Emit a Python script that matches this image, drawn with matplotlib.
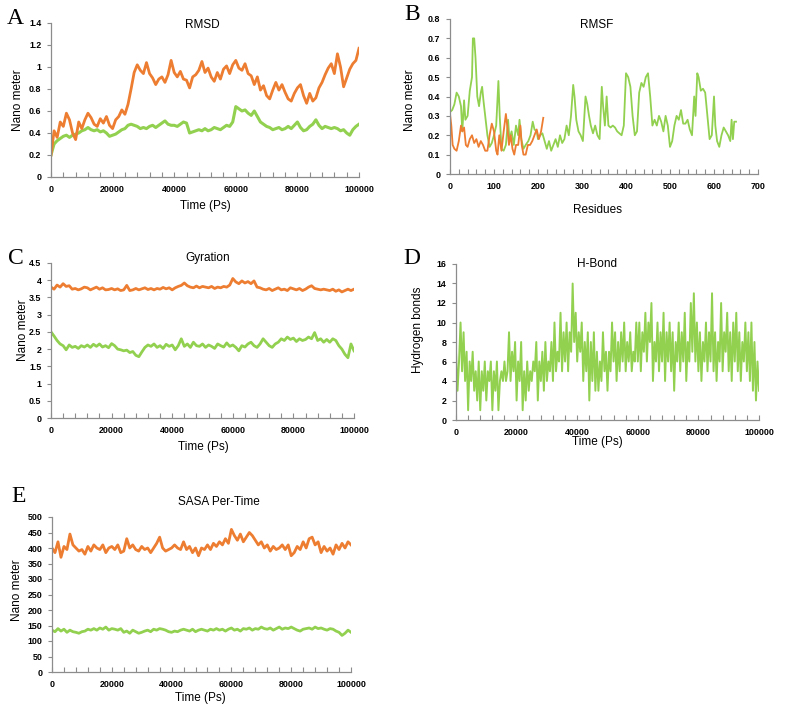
import numpy as np
import matplotlib
matplotlib.use("Agg")
import matplotlib.pyplot as plt
from matplotlib.ticker import MultipleLocator, FuncFormatter

ORANGE = "#ED7D31"
GREEN = "#92D050"
SPINE = "#8C8C8C"

# ---------------- data ----------------
time_1k = np.arange(0, 100001, 1000)
time_500 = np.arange(0, 100001, 500)

rmsd_orange = [0.20,0.42,0.36,0.50,0.46,0.58,0.52,0.40,0.34,0.50,0.44,
               0.52,0.58,0.54,0.48,0.46,0.53,0.49,0.55,0.47,0.44,
               0.52,0.55,0.61,0.57,0.66,0.80,0.95,1.02,0.97,0.94,
               1.04,0.94,0.90,0.84,0.89,0.91,0.86,0.93,1.06,0.95,
               0.91,0.96,0.89,0.88,0.81,0.91,0.93,0.97,1.05,0.95,
               0.99,0.91,0.87,0.95,0.89,0.98,1.01,0.94,1.02,1.06,
               0.99,0.97,1.03,0.94,0.92,0.84,0.91,0.79,0.83,0.74,
               0.71,0.79,0.86,0.79,0.84,0.77,0.71,0.69,0.76,0.81,
               0.84,0.74,0.67,0.76,0.69,0.72,0.81,0.86,0.93,0.99,
               1.03,0.94,1.12,1.00,0.82,0.90,0.98,1.03,1.06,1.17]
rmsd_green = [0.20,0.30,0.33,0.35,0.37,0.38,0.36,0.38,0.39,0.40,0.42,
              0.43,0.45,0.43,0.42,0.43,0.41,0.42,0.40,0.37,0.38,
              0.39,0.41,0.43,0.44,0.47,0.48,0.47,0.46,0.44,0.45,
              0.44,0.46,0.47,0.45,0.47,0.49,0.51,0.48,0.47,0.47,
              0.46,0.48,0.50,0.49,0.40,0.41,0.42,0.43,0.42,0.44,
              0.42,0.43,0.45,0.44,0.43,0.45,0.47,0.46,0.50,0.64,
              0.62,0.60,0.61,0.58,0.56,0.60,0.55,0.50,0.48,0.46,
              0.45,0.43,0.44,0.45,0.43,0.44,0.46,0.44,0.47,0.50,
              0.45,0.42,0.43,0.46,0.48,0.52,0.47,0.44,0.46,0.45,
              0.44,0.45,0.44,0.42,0.43,0.40,0.38,0.43,0.46,0.48]

rmsf_green_res = [0,5,10,15,20,25,28,32,35,40,45,50,52,55,58,62,66,70,73,76,80,85,90,95,100,
                  105,110,113,117,122,127,132,135,140,145,150,155,158,162,167,172,178,183,188,192,
                  197,200,205,210,215,220,225,230,235,240,245,250,255,260,265,270,275,280,283,287,
                  292,297,302,308,312,316,320,325,330,335,340,345,348,352,356,360,365,370,375,380,
                  385,390,395,400,405,410,415,420,425,430,435,440,445,450,455,460,465,470,475,480,
                  485,490,495,500,505,510,515,520,525,530,535,540,545,550,555,558,562,565,570,575,
                  580,585,590,595,600,603,607,612,617,622,627,632,637,640,643,646,650]
rmsf_green = [0.32,0.33,0.36,0.42,0.40,0.35,0.22,0.38,0.28,0.30,0.43,0.50,0.70,0.70,0.60,0.40,0.35,0.42,0.45,0.38,0.30,0.20,0.14,0.16,0.20,
              0.25,0.48,0.30,0.13,0.12,0.15,0.28,0.18,0.22,0.15,0.25,0.20,0.28,0.18,0.13,0.15,0.17,0.20,0.27,0.23,
              0.22,0.18,0.20,0.21,0.17,0.13,0.17,0.12,0.15,0.18,0.14,0.20,0.16,0.18,0.25,0.20,0.30,0.46,0.40,0.28,
              0.22,0.20,0.17,0.40,0.36,0.30,0.25,0.21,0.25,0.20,0.18,0.45,0.35,0.25,0.40,0.25,0.24,0.25,0.24,0.22,
              0.21,0.20,0.25,0.52,0.50,0.45,0.30,0.20,0.22,0.42,0.47,0.45,0.50,0.52,0.40,0.25,0.28,0.25,0.30,0.27,
              0.22,0.30,0.25,0.14,0.17,0.25,0.30,0.28,0.33,0.26,0.26,0.28,0.23,0.20,0.40,0.30,0.52,0.50,0.43,0.44,
              0.42,0.30,0.18,0.20,0.40,0.25,0.17,0.14,0.20,0.24,0.22,0.20,0.17,0.28,0.18,0.27,0.27]
rmsf_orange_res = [0,3,6,10,15,20,25,28,32,36,40,45,50,55,60,65,70,75,80,85,90,95,100,105,108,
                   112,117,122,127,130,134,138,142,146,150,155,160,163,167,172,177,182,187,192,197,
                   202,207,212]
rmsf_orange = [0.31,0.25,0.15,0.13,0.12,0.17,0.25,0.22,0.24,0.15,0.14,0.18,0.20,0.16,0.18,0.14,0.17,0.15,0.12,0.12,0.20,0.26,0.22,0.12,0.10,
               0.20,0.12,0.22,0.31,0.25,0.15,0.20,0.13,0.10,0.15,0.15,0.25,0.15,0.10,0.10,0.15,0.15,0.17,0.20,0.23,
               0.18,0.22,0.29]

gyr_orange = [3.80,3.74,3.86,3.80,3.90,3.82,3.84,3.74,3.76,3.72,3.75,
              3.80,3.78,3.72,3.76,3.80,3.74,3.78,3.72,3.73,3.76,
              3.72,3.75,3.70,3.72,3.85,3.70,3.72,3.76,3.72,3.75,
              3.78,3.73,3.76,3.72,3.76,3.74,3.79,3.75,3.78,3.72,
              3.78,3.82,3.85,3.92,3.84,3.80,3.78,3.83,3.78,3.82,
              3.80,3.78,3.82,3.76,3.80,3.78,3.82,3.80,3.86,4.05,
              3.95,3.90,3.98,3.92,3.96,3.90,3.98,3.80,3.78,3.74,
              3.72,3.76,3.70,3.74,3.78,3.72,3.74,3.70,3.78,3.75,
              3.72,3.76,3.70,3.74,3.80,3.84,3.76,3.74,3.72,3.74,
              3.72,3.70,3.74,3.68,3.72,3.66,3.70,3.74,3.70,3.74]
gyr_green = [2.50,2.38,2.25,2.15,2.10,1.98,2.12,2.05,2.08,2.02,2.10,
             2.06,2.12,2.05,2.14,2.08,2.15,2.06,2.10,2.04,2.16,
             2.10,2.00,1.98,1.95,1.97,1.90,1.93,1.82,1.78,1.92,
             2.05,2.12,2.08,2.15,2.05,2.10,2.02,2.14,2.08,2.12,
             1.98,2.10,2.30,2.08,2.15,2.05,2.20,2.10,2.08,2.15,
             2.05,2.12,2.08,2.02,2.15,2.10,2.06,2.18,2.08,2.12,
             2.05,1.95,2.10,2.06,2.15,2.20,2.10,2.05,2.15,2.30,
             2.20,2.10,2.05,2.15,2.20,2.30,2.25,2.35,2.28,2.32,
             2.22,2.30,2.25,2.28,2.35,2.30,2.48,2.25,2.30,2.20,
             2.28,2.20,2.30,2.25,2.10,2.00,1.85,1.75,2.15,1.95]

hbond = [7,3,6,10,5,9,4,7,1,6,4,7,3,5,2,6,1,5,3,6,
         2,5,4,6,1,5,3,6,1,4,5,4,6,4,5,9,4,7,5,8,
         2,6,4,8,1,5,2,6,3,5,4,6,5,8,2,6,4,7,3,8,
         4,6,5,8,4,10,5,7,6,11,5,9,6,10,5,9,7,14,8,11,
         6,9,7,10,4,8,5,9,2,8,4,9,3,7,3,6,4,9,5,7,
         3,7,5,10,6,9,4,8,5,9,6,10,5,8,6,9,5,7,6,10,
         6,10,5,9,7,11,6,10,8,12,4,8,6,10,5,9,6,11,4,9,
         6,10,5,9,3,8,6,10,5,9,6,11,4,8,6,12,7,13,6,10,
         5,9,4,8,6,10,5,9,6,13,5,9,4,8,6,12,5,9,7,11,
         5,9,4,10,6,11,5,9,4,8,6,10,5,9,4,10,3,8,2,6,3]

sasa_orange = [400,385,420,370,405,395,445,410,400,390,395,
               380,405,390,410,400,395,410,385,400,405,
               395,410,385,390,430,400,410,395,390,405,
               395,400,385,400,415,435,400,390,395,400,
               410,400,395,420,395,405,385,400,375,400,
               395,410,395,415,405,420,410,430,415,460,
               440,425,445,420,435,450,440,425,410,420,
               400,410,390,405,395,400,410,395,410,375,
               385,405,395,420,400,430,435,410,420,385,
               405,390,400,380,410,395,415,400,420,410]
sasa_green = [135,130,140,132,138,128,135,130,128,125,130,
              132,138,135,140,135,142,138,145,135,140,
              138,135,140,128,132,125,135,130,125,128,
              132,135,130,138,135,140,138,135,130,128,
              132,130,135,138,135,132,138,130,135,138,
              135,132,138,135,140,135,138,132,138,142,
              135,138,132,140,138,142,135,140,138,145,
              140,138,142,135,140,145,138,142,140,145,
              140,135,132,138,140,142,138,145,140,142,
              138,135,140,138,132,128,118,125,135,128]

# ---------------- layout ----------------
W, H = 786, 710
fig = plt.figure(figsize=(W / 100, H / 100), dpi=100)

def px_axes(l, r, t, b):
    return fig.add_axes([l / W, 1 - b / H, (r - l) / W, (b - t) / H])

def ftext(x, y, s, **kw):
    fig.text(x / W, 1 - y / H, s, **kw)

TICKFONT = dict(family="Liberation Sans", weight="bold", size=6.4)
LABFONT = dict(family="Liberation Sans", size=8.5)

def style(ax, xmax, xmajor, xminor, ymax, ymajor):
    for s in ["top", "right"]:
        ax.spines[s].set_visible(False)
    for s in ["left", "bottom"]:
        ax.spines[s].set_color(SPINE)
        ax.spines[s].set_linewidth(0.9)
    ax.set_xlim(0, xmax)
    ax.set_ylim(0, ymax)
    ax.xaxis.set_major_locator(MultipleLocator(xmajor))
    ax.xaxis.set_minor_locator(MultipleLocator(xminor))
    ax.yaxis.set_major_locator(MultipleLocator(ymajor))
    ax.yaxis.set_major_formatter(FuncFormatter(lambda v, p: "%g" % round(v, 3)))
    ax.xaxis.set_major_formatter(FuncFormatter(lambda v, p: "%d" % round(v)))
    ax.tick_params(axis="x", which="both", direction="in", length=3.5, color=SPINE, width=0.8, pad=6)
    ax.tick_params(axis="y", which="both", direction="out", length=3, color=SPINE, width=0.8, pad=4)
    for lab in ax.get_xticklabels() + ax.get_yticklabels():
        lab.set_fontproperties(matplotlib.font_manager.FontProperties(**TICKFONT))
    ax.set_facecolor("none")

# A: RMSD
axA = px_axes(51, 359, 23, 177)
axA.plot(time_1k, rmsd_green, color=GREEN, lw=2.2)
axA.plot(time_1k, rmsd_orange, color=ORANGE, lw=2.0)
style(axA, 100000, 20000, 4000, 1.4, 0.2)
ftext(202, 25, "RMSD", ha="center", va="center", **LABFONT)
ftext(18, 100, "Nano meter", ha="center", va="center", rotation=90, **LABFONT)
ftext(205, 206, "Time (Ps)", ha="center", va="center", **LABFONT)
ftext(15, 18, "A", ha="center", va="center", family="Liberation Serif", size=17)

# B: RMSF
axB = px_axes(450, 758, 19, 174)
axB.plot(rmsf_green_res, rmsf_green, color=GREEN, lw=1.3)
axB.plot(rmsf_orange_res, rmsf_orange, color=ORANGE, lw=1.3)
style(axB, 700, 100, 20, 0.8, 0.1)
ftext(597, 25, "RMSF", ha="center", va="center", **LABFONT)
ftext(410, 100, "Nano meter", ha="center", va="center", rotation=90, **LABFONT)
ftext(597, 210, "Residues", ha="center", va="center", **LABFONT)
ftext(412, 15, "B", ha="center", va="center", family="Liberation Serif", size=17)

# C: Gyration
axC = px_axes(51, 354, 263, 418)
axC.plot(time_1k, gyr_orange, color=ORANGE, lw=2.0)
axC.plot(time_1k, gyr_green, color=GREEN, lw=2.0)
style(axC, 100000, 20000, 4000, 4.5, 0.5)
ftext(208, 258, "Gyration", ha="center", va="center", **LABFONT)
ftext(23, 330, "Nano meter", ha="center", va="center", rotation=90, **LABFONT)
ftext(203, 447, "Time (Ps)", ha="center", va="center", **LABFONT)
ftext(16, 259, "C", ha="center", va="center", family="Liberation Serif", size=17)

# D: H-Bond
axD = px_axes(456, 759, 264, 420)
axD.plot(time_500, hbond, color=GREEN, lw=1.4)
style(axD, 100000, 20000, 4000, 16, 2)
ftext(597, 264, "H-Bond", ha="center", va="center", **LABFONT)
ftext(418, 330, "Hydrogen bonds", ha="center", va="center", rotation=90, **LABFONT)
ftext(597, 442, "Time (Ps)", ha="center", va="center", **LABFONT)
ftext(412, 259, "D", ha="center", va="center", family="Liberation Serif", size=17)

# E: SASA
axE = px_axes(52, 351, 517, 672)
axE.plot(time_1k, sasa_orange, color=ORANGE, lw=2.0)
axE.plot(time_1k, sasa_green, color=GREEN, lw=2.0)
style(axE, 100000, 20000, 4000, 500, 50)
ftext(219, 502, "SASA Per-Time", ha="center", va="center", **LABFONT)
ftext(17, 590, "Nano meter", ha="center", va="center", rotation=90, **LABFONT)
ftext(200, 698, "Time (Ps)", ha="center", va="center", **LABFONT)
ftext(19, 497, "E", ha="center", va="center", family="Liberation Serif", size=17)

fig.savefig("out.png", dpi=100, facecolor="white")
